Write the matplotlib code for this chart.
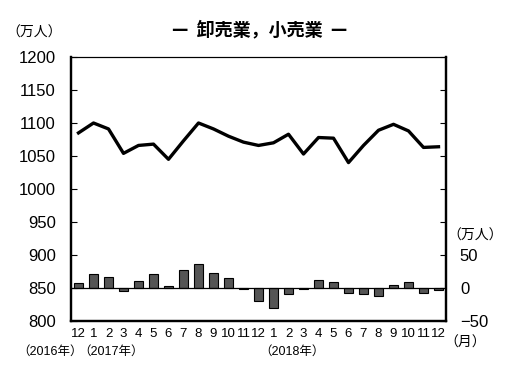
import matplotlib
matplotlib.use('Agg')
import matplotlib.pyplot as plt
import numpy as np

plt.rcParams['font.family'] = ['Liberation Sans', 'Noto Sans CJK JP', 'DejaVu Sans']
plt.rcParams['axes.unicode_minus'] = True

# 月ラベル（2016年12月〜2018年12月）
months = ['12', '1', '2', '3', '4', '5', '6', '7', '8', '9', '10', '11',
          '12', '1', '2', '3', '4', '5', '6', '7', '8', '9', '10', '11', '12']
# 就業者数（万人）
employed = [1085, 1100, 1091, 1054, 1066, 1068, 1045, 1073, 1100, 1091, 1080, 1071,
            1066, 1070, 1083, 1053, 1078, 1077, 1040, 1066, 1089, 1098, 1088, 1063, 1064]
# 前年同月差（万人）
diff = [7, 21, 17, -4.5, 10.5, 21, 3.5, 28, 36, 22, 15, -1,
        -19, -30, -8.5, -1, 12, 9, -7.5, -8.5, -11.5, 5, 9, -7.5, -3]
year_labels = ['（2016年）', '（2017年）', '（2018年）']
year_pos = [-1.9, 2.2, 14.2]

x = np.arange(len(months))

fig = plt.figure(figsize=(5.14, 3.74), dpi=100)
ax = fig.add_axes([71 / 514, 1 - 321 / 374, 375 / 514, 264 / 374])
ax2 = ax.twinx()

ax.plot(x, employed, color='black', lw=2.4, zorder=3)
ax.set_xlim(-0.5, len(months) - 0.5)
ax.set_ylim(800, 1200)
ax.set_yticks(np.arange(800, 1201, 50))
ax.tick_params(axis='y', direction='in', length=4, pad=11, labelsize=12)
ax.set_xticks(x)
ax.set_xticklabels(months, fontsize=9.5)
ax.tick_params(axis='x', length=0, pad=5)

ax2.bar(x, diff, width=0.58, color='#555555', edgecolor='black', lw=0.8, zorder=2)
ax2.axhline(0, color='black', lw=0.9, zorder=3)
ax2.set_ylim(-50, 350)
ax2.set_yticks(np.arange(-50, 351, 50))
ax2.set_yticklabels(['−50', '0', '50'] + [''] * 6)
ax2.tick_params(axis='y', direction='in', length=4, pad=10, labelsize=12)

for a in (ax, ax2):
    for s in ('left', 'right', 'bottom'):
        a.spines[s].set_linewidth(1.6)
    a.spines['top'].set_linewidth(0.8)

for lab, p in zip(year_labels, year_pos):
    ax.text(p, -0.118, lab, transform=ax.get_xaxis_transform(),
            ha='center', va='center', fontsize=9)

fig.text(260 / 514, 1 - 30 / 374, '—  卸売業，小売業  —', ha='center', va='center',
         fontsize=13, fontweight='bold', family=['Noto Sans CJK JP', 'DejaVu Sans'])
fig.text(34 / 514, 1 - 33 / 374, '（万人）', ha='center', va='center', fontsize=10)
fig.text(475 / 514, 1 - 236 / 374, '（万人）', ha='center', va='center', fontsize=10)
fig.text(465 / 514, 1 - 343 / 374, '（月）', ha='center', va='center', fontsize=10)

fig.savefig('out.png', dpi=100)
